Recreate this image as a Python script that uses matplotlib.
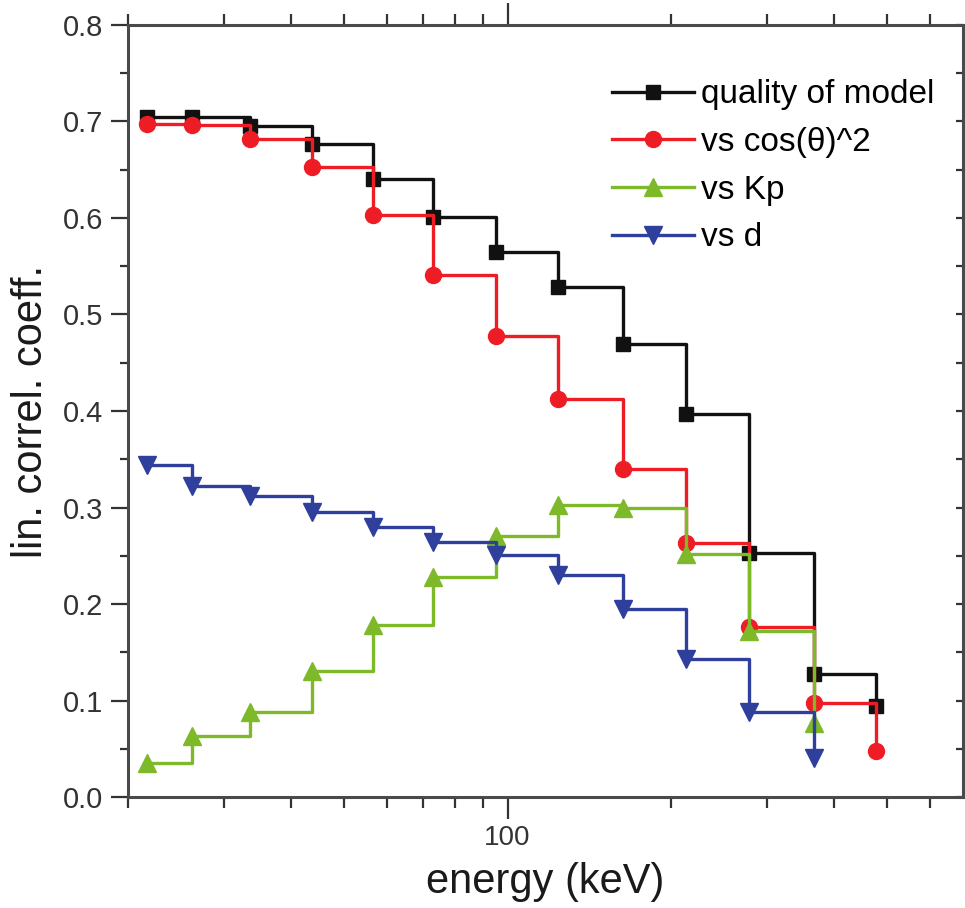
import matplotlib
matplotlib.use("Agg")
import matplotlib.pyplot as plt
import matplotlib.ticker as ticker

plt.rcParams["font.family"] = ["Liberation Sans", "DejaVu Sans"]

# energy channels (keV)
energy = [21.7, 26.2, 33.6, 43.7, 56.6, 73.0, 95.3, 124, 163, 213, 278, 366, 478]

quality = [0.705, 0.705, 0.695, 0.677, 0.640, 0.601, 0.565, 0.528, 0.469, 0.397, 0.253, 0.128, 0.094]
cos2 = [0.697, 0.696, 0.682, 0.653, 0.603, 0.541, 0.478, 0.412, 0.340, 0.263, 0.176, 0.097, 0.048]
kp = [0.035, 0.063, 0.088, 0.131, 0.178, 0.228, 0.270, 0.303, 0.300, 0.252, 0.172, 0.077]
dist = [0.344, 0.322, 0.312, 0.295, 0.280, 0.264, 0.251, 0.230, 0.195, 0.143, 0.088, 0.040]

series = [
    ("quality of model", quality, "#111111", "s", 10),
    ("vs cos(\u03b8)^2", cos2, "#ee1d25", "o", 11.5),
    ("vs Kp", kp, "#7db928", "^", 12.5),
    ("vs d", dist, "#2e3f9c", "v", 12.5),
]

fig = plt.figure(figsize=(9.65, 9.08), dpi=100)
ax = fig.add_axes([0.1326, 0.1222, 0.8654, 0.8503])

for label, vals, color, marker, ms in series:
    ax.plot(energy[:len(vals)], vals, drawstyle="steps-post", color=color,
            linewidth=2.4, marker=marker, markersize=ms, label=label)

ax.set_xscale("log")
ax.set_xlim(20, 690)
ax.set_ylim(0, 0.8)

ax.xaxis.set_major_locator(ticker.FixedLocator([100]))
ax.xaxis.set_major_formatter(ticker.FixedFormatter(["100"]))
ax.xaxis.set_minor_locator(ticker.LogLocator(base=10, subs=range(2, 10), numticks=20))
ax.xaxis.set_minor_formatter(ticker.NullFormatter())
ax.yaxis.set_major_locator(ticker.MultipleLocator(0.1))
ax.yaxis.set_minor_locator(ticker.MultipleLocator(0.05))
ax.yaxis.set_major_formatter(ticker.FormatStrFormatter("%.1f"))

for sp in ax.spines.values():
    sp.set_color("#4a4a4a")
    sp.set_linewidth(2.2)

# x ticks: outside on bottom and top
ax.tick_params(axis="x", which="major", direction="out", length=16, width=1.6,
               colors="#333333", top=True, labelsize=20, labelcolor="#333333", pad=4)
ax.tick_params(axis="x", which="minor", direction="out", length=8, width=1.6,
               colors="#333333", top=True)
# y ticks: outside on the left, short inward ones on the right
ax.tick_params(axis="y", which="major", direction="out", length=12, width=1.6,
               colors="#333333", right=True, labelsize=21, labelcolor="#333333", pad=6)
ax.tick_params(axis="y", which="minor", direction="out", length=6, width=1.6,
               colors="#333333", right=True)
for t in ax.yaxis.get_major_ticks() + ax.yaxis.get_minor_ticks():
    t.tick2line.set_marker(matplotlib.lines.TICKLEFT)
    t.tick2line.set_markersize(5)

ax.set_xlabel("energy (keV)", fontsize=30, color="#1a1a1a", labelpad=8)
ax.set_ylabel("lin. correl. coeff.", fontsize=30, color="#1a1a1a", labelpad=8)

ax.legend(loc="upper left", bbox_to_anchor=(0.564, 0.947), frameon=False,
          fontsize=24, handlelength=2.45, handletextpad=0.2, labelspacing=0.5,
          borderaxespad=0)

fig.savefig("out.png", dpi=100)
